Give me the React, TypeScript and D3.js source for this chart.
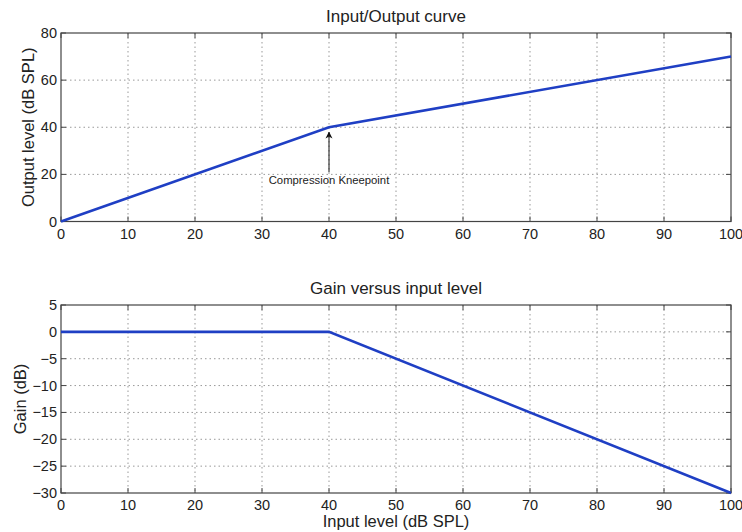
import * as d3 from 'd3'

// breakpoints of the compression curve
const inputLevels = [0, 40, 100]
const outputLevels = [0, 40, 70]
const gainLevels = [0, 0, -30]

const xTicks = [0, 10, 20, 30, 40, 50, 60, 70, 80, 90, 100]
const outputTicks = [0, 20, 40, 60, 80]
const gainTicks = [5, 0, -5, -10, -15, -20, -25, -30]

const W = 742
const H = 532
const left = 61
const right = 731
const font = 'Liberation Sans, Arial, sans-serif'
const lineColor = '#1f3fc4'
const axisColor = '#444'
const gridColor = '#999'

const fmt = (v: number) => (v < 0 ? '\u2212' + Math.abs(v) : String(v))

type PanelProps = {
  top: number
  bottom: number
  yDomain: [number, number]
  yTicks: number[]
  ys: number[]
  title: string
  yLabel: string
  yLabelX: number
  children?: (x: d3.ScaleLinear<number, number>, y: d3.ScaleLinear<number, number>) => any
}

const Panel = ({ top, bottom, yDomain, yTicks, ys, title, yLabel, yLabelX, children }: PanelProps) => {
  const x = d3.scaleLinear().domain([0, 100]).range([left, right])
  const y = d3.scaleLinear().domain(yDomain).range([bottom, top])
  const line = d3.line<number>()
    .x((d) => x(d))
    .y((_, i) => y(ys[i]))

  return (
    <g>
      {/* grid */}
      {xTicks.slice(1, -1).map((t) => (
        <line key={'gx' + t} x1={x(t)} x2={x(t)} y1={top} y2={bottom}
          stroke={gridColor} strokeWidth={1} strokeDasharray="1.5,3" />
      ))}
      {yTicks.filter((t) => t !== yDomain[0] && t !== yDomain[1]).map((t) => (
        <line key={'gy' + t} x1={left} x2={right} y1={y(t)} y2={y(t)}
          stroke={gridColor} strokeWidth={1} strokeDasharray="1.5,3" />
      ))}
      {/* tick marks inside, both sides */}
      {xTicks.map((t) => (
        <g key={'tx' + t}>
          <line x1={x(t)} x2={x(t)} y1={bottom} y2={bottom - 5} stroke={axisColor} />
          <line x1={x(t)} x2={x(t)} y1={top} y2={top + 5} stroke={axisColor} />
          <text x={x(t)} y={bottom + 17} textAnchor="middle" fontSize={14.5} fill="#222">{t}</text>
        </g>
      ))}
      {yTicks.map((t) => (
        <g key={'ty' + t}>
          <line x1={left} x2={left + 5} y1={y(t)} y2={y(t)} stroke={axisColor} />
          <line x1={right} x2={right - 5} y1={y(t)} y2={y(t)} stroke={axisColor} />
          <text x={left - 4} y={y(t) + 5} textAnchor="end" fontSize={14.5} fill="#222">{fmt(t)}</text>
        </g>
      ))}
      <rect x={left} y={top} width={right - left} height={bottom - top}
        fill="none" stroke={axisColor} strokeWidth={1.2} />
      <path d={line(inputLevels) ?? ''} fill="none" stroke={lineColor} strokeWidth={2.6} />
      <text x={(left + right) / 2} y={top - 11} textAnchor="middle" fontSize={17} fill="#222">{title}</text>
      <text transform={`translate(${yLabelX},${(top + bottom) / 2}) rotate(-90)`} textAnchor="middle"
        fontSize={16.5} fill="#222">{yLabel}</text>
      {children && children(x, y)}
    </g>
  )
}

export default function App() {
  return (
    <svg width={W} height={H} style={{ position: 'absolute', left: 0, top: 0, background: '#fff' }}
      fontFamily={font}>
      <defs>
        <marker id="arrow" viewBox="0 0 10 10" refX={9} refY={5} markerWidth={7} markerHeight={9}
          orient="auto" markerUnits="userSpaceOnUse">
          <path d="M0,0 L10,5 L0,10 L3,5 z" fill="#111" />
        </marker>
      </defs>
      <Panel top={33} bottom={221.5} yDomain={[0, 80]} yTicks={outputTicks} ys={outputLevels}
        title="Input/Output curve" yLabel="Output level (dB SPL)" yLabelX={34}>
        {(x, y) => (
          <g>
            <line x1={x(40)} x2={x(40)} y1={y(40) + 45} y2={y(40) + 5} stroke="#111" strokeWidth={1}
              markerEnd="url(#arrow)" />
            <text x={x(40)} y={y(40) + 57} textAnchor="middle" fontSize={11.3} fill="#222">
              Compression Kneepoint
            </text>
          </g>
        )}
      </Panel>
      <Panel top={305} bottom={493} yDomain={[-30, 5]} yTicks={gainTicks} ys={gainLevels}
        title="Gain versus input level" yLabel="Gain (dB)" yLabelX={26} />
      <text x={(left + right) / 2} y={527} textAnchor="middle" fontSize={16.5} fill="#222">
        Input level (dB SPL)
      </text>
    </svg>
  )
}
